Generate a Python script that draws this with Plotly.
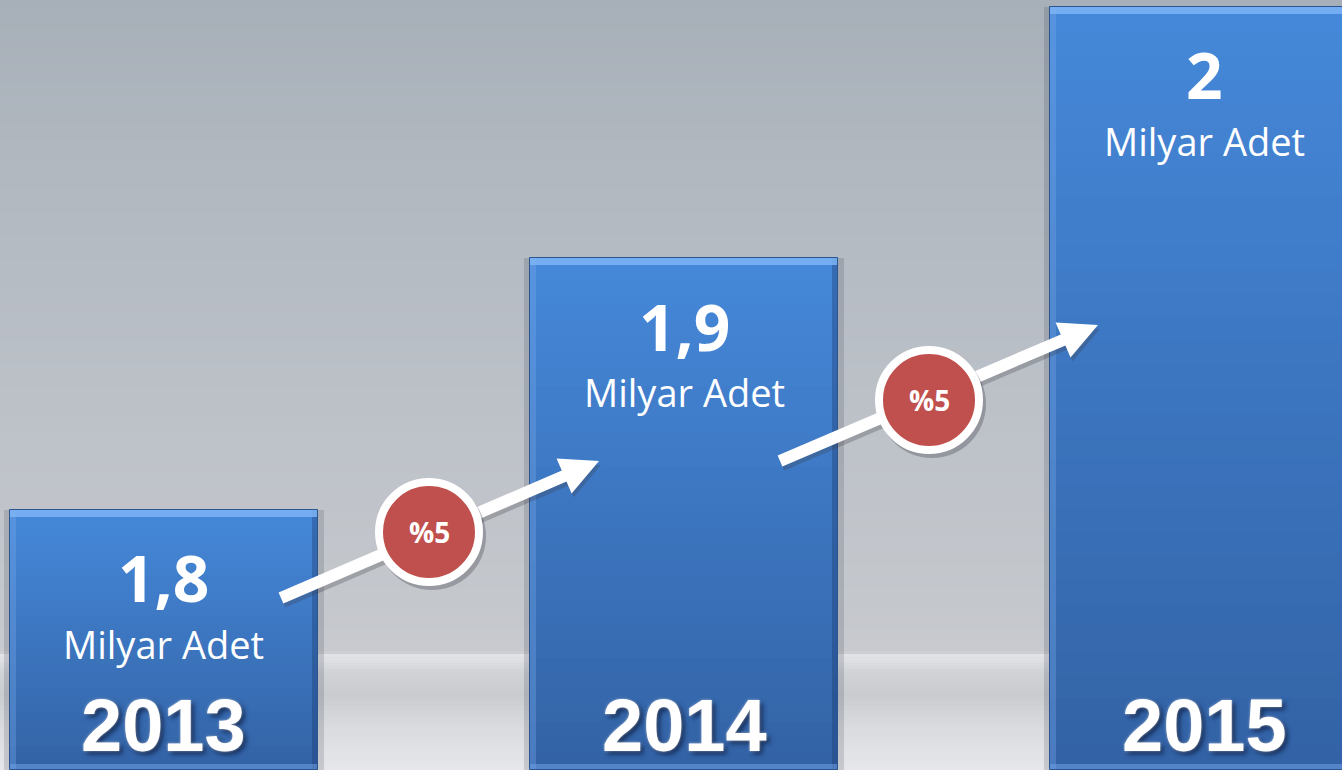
import plotly.graph_objects as go
import numpy as np

# ---------------- data ----------------
years = ["2013", "2014", "2015"]
values = [1.8, 1.9, 2.0]
value_labels = ["1,8", "1,9", "2"]
unit_label = "Milyar Adet"
growth_labels = ["%5", "%5"]

# ---------------- geometry / style ----------------
W, H = 1342, 770
Y_MIN, Y_MAX = 1.6965, 2.0026
X_MIN, X_MAX = -0.315, 2.265
BAR_W = 0.592
PY = (Y_MAX - Y_MIN) / H       # data units per pixel (y)
PX = (X_MAX - X_MIN) / W       # data units per pixel (x)


def hex2rgb(h):
    h = h.lstrip("#")
    return tuple(int(h[i:i + 2], 16) for i in (0, 2, 4))


def lerp(c1, c2, t):
    return tuple(c1[i] + (c2[i] - c1[i]) * t for i in range(3))


def rgb(c, a=None):
    if a is None:
        return "rgb(%d,%d,%d)" % tuple(int(round(v)) for v in c)
    return "rgba(%d,%d,%d,%.3f)" % (tuple(int(round(v)) for v in c) + (a,))


fig = go.Figure()

# ---- bar drop shadow ----
fig.add_bar(
    x=years, y=[v - Y_MIN + 2 * PY for v in values], base=Y_MIN - 2 * PY,
    width=BAR_W + 12 * PX, marker=dict(color="rgba(40,45,60,0.16)", line=dict(width=0)),
    hoverinfo="skip", showlegend=False,
)

# ---- bar body: vertical gradient per bar ----
top_c = hex2rgb("#4588d9")
bot_c = hex2rgb("#3363a6")
N = 32
for k in range(N):
    f = 1 - k / N
    col = lerp(top_c, bot_c, k / (N - 1))
    fig.add_bar(
        x=years, y=[f * (v - Y_MIN) for v in values], base=Y_MIN,
        width=BAR_W, marker=dict(color=rgb(col), line=dict(width=0)),
        hoverinfo="skip", showlegend=False,
    )

# ---- bevel edges ----
bev = 6
fig.add_bar(
    x=years, y=[v - Y_MIN for v in values], base=Y_MIN,
    width=bev * PX, offset=-BAR_W / 2,
    marker=dict(color="rgba(120,170,235,0.35)", line=dict(width=0)),
    hoverinfo="skip", showlegend=False,
)
fig.add_bar(
    x=years, y=[v - Y_MIN for v in values], base=Y_MIN,
    width=bev * PX, offset=BAR_W / 2 - bev * PX,
    marker=dict(color="rgba(25,55,110,0.35)", line=dict(width=0)),
    hoverinfo="skip", showlegend=False,
)
fig.add_bar(
    x=years, y=[bev * PY] * 3, base=Y_MIN,
    width=BAR_W, marker=dict(color="rgba(110,160,225,0.55)", line=dict(width=0)),
    hoverinfo="skip", showlegend=False,
)
fig.add_bar(
    x=years, y=[(bev + 1) * PY] * 3, base=[v - (bev + 1) * PY for v in values],
    width=BAR_W, marker=dict(color="rgba(125,180,245,0.85)", line=dict(width=0)),
    hoverinfo="skip", showlegend=False,
)
fig.add_bar(
    x=years, y=[v - Y_MIN for v in values], base=Y_MIN,
    width=BAR_W, marker=dict(color="rgba(0,0,0,0)", line=dict(width=1, color="#2b5590")),
    hoverinfo="skip", showlegend=False,
)

shapes = []

# ---- background gradient (paper coords) ----
bg_stops = [
    (0, "#a7afb8"), (150, "#b0b7bf"), (400, "#bcc1c8"), (600, "#c4c7cc"),
    (652, "#c8cacf"), (655, "#e0e2e5"), (660, "#dfe1e4"), (672, "#d0d2d6"),
    (695, "#c9cbcf"), (725, "#d8dadd"), (770, "#e6e7ea"),
]
ys = [s[0] for s in bg_stops]
cols = [hex2rgb(s[1]) for s in bg_stops]
step = 3
for y0 in range(0, H, step):
    yc = y0 + step / 2
    c = tuple(np.interp(yc, ys, [cc[i] for cc in cols]) for i in range(3))
    shapes.append(dict(
        type="rect", xref="paper", yref="paper", layer="below",
        x0=0, x1=1, y0=1 - (y0 + step) / H, y1=1 - y0 / H,
        fillcolor=rgb(c), line=dict(width=0),
    ))


def P(xp, yp):
    return xp / W, 1 - yp / H


# ---- growth arrows ----
arrows = [((281, 598), (599, 461)), ((780, 461), (1098, 325))]
head_len, head_half = 38, 19
for (tx, ty), (hx, hy) in arrows:
    d = np.array([hx - tx, hy - ty], float)
    u = d / np.linalg.norm(d)
    n = np.array([-u[1], u[0]])
    tip = np.array([hx, hy], float)
    base = tip - head_len * u
    c1 = base + head_half * n
    c2 = base - head_half * n
    for off, colr in (((2, 4), "rgba(60,60,70,0.28)"), ((0, 0), "white")):
        ox, oy = off
        a0 = P(tx + ox, ty + oy)
        a1 = P(base[0] + 2 * u[0] + ox, base[1] + 2 * u[1] + oy)
        shapes.append(dict(type="line", xref="paper", yref="paper", layer="above",
                           x0=a0[0], y0=a0[1], x1=a1[0], y1=a1[1],
                           line=dict(color=colr, width=12)))
        pts = [P(p[0] + ox, p[1] + oy) for p in (tip, c1, c2)]
        path = "M%.5f,%.5f L%.5f,%.5f L%.5f,%.5f Z" % (pts[0] + pts[1] + pts[2])
        shapes.append(dict(type="path", xref="paper", yref="paper", layer="above",
                           path=path, fillcolor=colr, line=dict(width=0)))

# ---- growth circles ----
circles = [(429, 532), (929, 400)]
annotations = []
for (cx, cy), g in zip(circles, growth_labels):
    r_out = 54
    a = P(cx - r_out + 3, cy - r_out + 4)
    b = P(cx + r_out + 3, cy + r_out + 4)
    shapes.append(dict(type="circle", xref="paper", yref="paper", layer="above",
                       x0=a[0], x1=b[0], y0=b[1], y1=a[1],
                       fillcolor="rgba(50,50,60,0.30)", line=dict(width=0)))
    r = 50
    a = P(cx - r, cy - r)
    b = P(cx + r, cy + r)
    shapes.append(dict(type="circle", xref="paper", yref="paper", layer="above",
                       x0=a[0], x1=b[0], y0=b[1], y1=a[1],
                       fillcolor="#c0504d", line=dict(color="white", width=8)))
    p = P(cx, cy)
    annotations.append(dict(
        x=p[0], y=p[1], xref="paper", yref="paper", text=g, showarrow=False,
        font=dict(family="Open Sans", size=28, color="white", weight=700),
        xanchor="center", yanchor="middle",
    ))

# ---- bar labels (category index positions) ----
for i, (yr, v, lab) in enumerate(zip(years, values, value_labels)):
    annotations.append(dict(
        x=i, y=v, xref="x", yref="y", text=lab, showarrow=False,
        font=dict(family="Open Sans", size=64, color="white", weight=700),
        xanchor="center", yanchor="middle", yshift=-68,
    ))
    annotations.append(dict(
        x=i, y=v, xref="x", yref="y", text=unit_label, showarrow=False,
        font=dict(family="Open Sans", size=38, color="white"),
        xanchor="center", yanchor="middle", yshift=-134,
    ))
    annotations.append(dict(
        x=i, y=Y_MIN, xref="x", yref="y", text=yr, showarrow=False,
        font=dict(family="Liberation Sans", size=74,
                  color="white", weight=700,
                  shadow="0px 0px 3px rgba(255,255,255,0.55), 3px 3px 5px rgba(15,35,75,0.9)"),
        xanchor="center", yanchor="bottom", yshift=1,
    ))

fig.update_layout(
    width=W, height=H,
    margin=dict(l=0, r=0, t=0, b=0, pad=0),
    paper_bgcolor="#c4c7cc", plot_bgcolor="rgba(0,0,0,0)",
    barmode="overlay", bargap=0,
    showlegend=False,
    xaxis=dict(visible=False, range=[X_MIN, X_MAX], type="category"),
    yaxis=dict(visible=False, range=[Y_MIN, Y_MAX]),
    shapes=shapes, annotations=annotations,
    hovermode=False,
)

fig.write_html("out.html", config={"displayModeBar": False},
               post_script="document.body.style.margin='0';document.body.style.overflow='hidden';")
